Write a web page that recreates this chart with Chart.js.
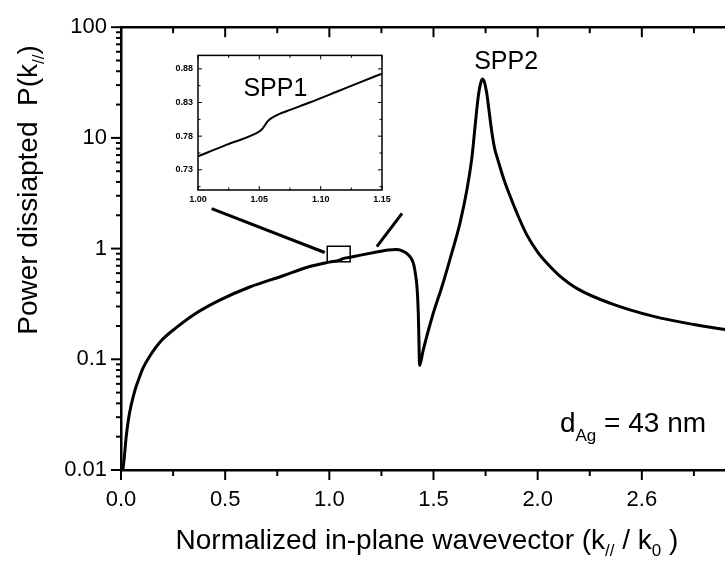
<!DOCTYPE html>
<html><head><meta charset="utf-8">
<script src="https://cdn.jsdelivr.net/npm/chart.js@4.4.1/dist/chart.umd.min.js"></script>
<style>
html,body{margin:0;padding:0;background:#fff;overflow:hidden;width:725px;height:566px;}
#wrap{position:relative;width:725px;height:566px;overflow:hidden;background:#fff;}
#main{position:absolute;left:0;top:0;}
#inset{position:absolute;left:150px;top:45px;}
</style></head><body>
<div id="wrap"><canvas id="main" width="746" height="566"></canvas><canvas id="inset" width="250" height="170"></canvas></div>
<script>
// ---- data ----
const kValues = [0.009,0.015,0.025,0.035,0.044,0.06,0.073,0.09,0.105,0.137,0.193,0.265,0.36,0.474,0.618,0.778,0.906,1.0,1.05,1.065,1.1,1.15,1.227,1.283,1.32,1.35,1.37,1.39,1.405,1.415,1.422,1.427,1.43,1.433,1.45,1.496,1.54,1.579,1.627,1.661,1.685,1.70,1.714,1.725,1.735,1.745,1.755,1.765,1.775,1.785,1.795,1.804,1.82,1.84,1.867,1.90,1.948,2.0,2.044,2.1,2.19,2.35,2.557,2.75,2.90,3.0];
const powerValues = [0.01,0.0125,0.020,0.028,0.035,0.047,0.057,0.07,0.083,0.106,0.147,0.193,0.261,0.343,0.45,0.569,0.689,0.755,0.787,0.812,0.836,0.873,0.93,0.97,0.98,0.955,0.91,0.83,0.72,0.56,0.42,0.26,0.15,0.088,0.12,0.25,0.45,0.80,1.70,3.46,6.8,13,23,30.5,34,31.6,25.7,18.6,13.2,9.8,7.8,6.8,5.4,4.1,3.0,2.1,1.33,0.93,0.74,0.58,0.435,0.32,0.244,0.206,0.186,0.178];
const xTickValues = [0,0.5,1,1.5,2,2.5];
const xTickLabels = ['0.0','0.5','1.0','1.5','2.0','2.6'];
const yTickValues = [0.01,0.1,1,10,100];
const yTickLabels = ['0.01','0.1','1','10','100'];

const insetK = [1.0,1.023,1.046,1.052,1.057,1.064,1.072,1.091,1.113,1.132,1.15];
const insetP = [0.750,0.767,0.783,0.790,0.8025,0.811,0.817,0.830,0.846,0.860,0.873];
const insetXTicks = [1.00,1.05,1.10,1.15];
const insetXLabels = ['1.00','1.05','1.10','1.15'];
const insetYTicks = [0.73,0.78,0.83,0.88];
const insetYLabels = ['0.73','0.78','0.83','0.88'];

// annotation anchors in data units
const zoomBoxK = [0.99,1.10];
const zoomBoxP = [0.76,1.05];
const leaderAK = [0.435,0.978], leaderAP = [2.30,0.922];
const leaderBK = [1.349,1.228], leaderBP = [2.08,1.04];
const spp2At = [1.695, 42];
const dagAt = [2.107, 0.0219];
const spp1At = [1.037, 0.839];

const FONT = '"Liberation Sans", Arial, Helvetica, sans-serif';

function drawRich(ctx, parts, x, y, align){
  let w = 0;
  parts.forEach(p => { ctx.font = p[1] + 'px ' + FONT; w += ctx.measureText(p[0]).width; });
  let cx = align === 'center' ? x - w/2 : x;
  parts.forEach(p => {
    ctx.font = p[1] + 'px ' + FONT;
    ctx.fillText(p[0], cx, y + (p[2]||0));
    cx += ctx.measureText(p[0]).width;
  });
}
function seg(ctx,x1,y1,x2,y2){ctx.beginPath();ctx.moveTo(x1,y1);ctx.lineTo(x2,y2);ctx.stroke();}

const mainDecor = {
  id:'mainDecor',
  afterDraw(chart){
    const {ctx, chartArea:a, scales:{x,y}} = chart;
    ctx.save();
    ctx.strokeStyle = '#000'; ctx.fillStyle = '#000';
    ctx.lineWidth = 2.5; ctx.lineCap = 'butt';
    seg(ctx, a.left-1, a.top, a.right, a.top);
    seg(ctx, a.right, a.top, a.right, a.bottom);
    ctx.lineWidth = 2;
    for (let i = 0; i <= 12; i++){
      const px = x.getPixelForValue(i*0.25);
      const L = i%2===0 ? 10 : 6;
      seg(ctx, px, a.bottom, px, a.bottom + L);
      seg(ctx, px, a.top, px, a.top + L);
    }
    for (let e = -2; e <= 2; e++){
      for (let m = 1; m <= 9; m++){
        const v = m*Math.pow(10,e);
        if (v > 100.0001) break;
        const py = y.getPixelForValue(v);
        const L = m===1 ? 10 : 5;
        seg(ctx, a.left - L, py, a.left, py);
        seg(ctx, a.right, py, a.right - L, py);
      }
    }
    // zoom box
    ctx.lineWidth = 1.5;
    const bx1 = x.getPixelForValue(zoomBoxK[0]), bx2 = x.getPixelForValue(zoomBoxK[1]);
    const by1 = y.getPixelForValue(zoomBoxP[1]), by2 = y.getPixelForValue(zoomBoxP[0]);
    ctx.strokeRect(bx1, by1, bx2-bx1, by2-by1);
    // leader lines
    ctx.lineWidth = 3;
    seg(ctx, x.getPixelForValue(leaderAK[0]), y.getPixelForValue(leaderAP[0]), x.getPixelForValue(leaderAK[1]), y.getPixelForValue(leaderAP[1]));
    seg(ctx, x.getPixelForValue(leaderBK[0]), y.getPixelForValue(leaderBP[0]), x.getPixelForValue(leaderBK[1]), y.getPixelForValue(leaderBP[1]));
    // labels
    ctx.textBaseline = 'alphabetic'; ctx.textAlign = 'left';
    drawRich(ctx, [['SPP2',25]], x.getPixelForValue(spp2At[0]), y.getPixelForValue(spp2At[1]), 'left');
    drawRich(ctx, [['d',28],['Ag',17,9],[' = 43 nm',28]], x.getPixelForValue(dagAt[0]), y.getPixelForValue(dagAt[1]), 'left');
    // axis titles
    drawRich(ctx, [['Normalized in-plane wavevector (k',28],['//',17,7],[' / k',28],['0',17,7],[' )',28]], 427, 549, 'center');
    ctx.save();
    ctx.translate(37, 190);
    ctx.rotate(-Math.PI/2);
    drawRich(ctx, [['Power dissiapted  P(k',28],['//',17,7],[')',28]], 0, 0, 'center');
    ctx.restore();
    ctx.restore();
  }
};

new Chart(document.getElementById('main'), {
  type:'line',
  data:{ datasets:[{
    data: kValues.map((k,i)=>({x:k, y:powerValues[i]})),
    borderColor:'#000', borderWidth:3, pointRadius:0, fill:false,
    cubicInterpolationMode:'monotone'
  }]},
  options:{
    responsive:false, animation:false, devicePixelRatio:1,
    layout:{padding:{top:17,right:0,left:0,bottom:0}},
    plugins:{legend:{display:false}, tooltip:{enabled:false}},
    scales:{
      x:{type:'linear', min:0, max:3,
        afterBuildTicks:s=>{s.ticks = xTickValues.map(v=>({value:v}));},
        afterFit:s=>{s.height = 96;},
        ticks:{autoSkip:false, maxRotation:0, padding:17, color:'#000',
          font:{family:FONT,size:22},
          callback:(v)=>{const i = xTickValues.findIndex(t=>Math.abs(t-v)<1e-9); return i>=0?xTickLabels[i]:'';}},
        grid:{display:false, drawTicks:false},
        border:{display:true, color:'#000', width:2.5}
      },
      y:{type:'logarithmic', min:0.01, max:100,
        afterBuildTicks:s=>{s.ticks = yTickValues.map(v=>({value:v}));},
        afterFit:s=>{s.width = 121;},
        ticks:{autoSkip:false, padding:14, color:'#000',
          font:{family:FONT,size:22},
          callback:(v)=>{const i = yTickValues.findIndex(t=>Math.abs(t-v)/t<1e-6); return i>=0?yTickLabels[i]:'';}},
        grid:{display:false, drawTicks:false},
        border:{display:true, color:'#000', width:2.5}
      }
    }
  },
  plugins:[mainDecor]
});

const insetDecor = {
  id:'insetDecor',
  beforeDraw(chart){
    const {ctx, chartArea:a} = chart;
    ctx.save(); ctx.fillStyle='#fff'; ctx.fillRect(a.left, a.top, a.right-a.left, a.bottom-a.top); ctx.restore();
  },
  afterDraw(chart){
    const {ctx, chartArea:a, scales:{x,y}} = chart;
    ctx.save();
    ctx.strokeStyle='#000'; ctx.fillStyle='#000';
    ctx.lineWidth = 1.5;
    ctx.strokeRect(a.left, a.top, a.right-a.left, a.bottom-a.top);
    ctx.lineWidth = 1;
    for (let i = 0; i <= 6; i++){
      const px = x.getPixelForValue(1.0 + i*0.025);
      const L = i%2===0 ? 4 : 2.5;
      seg(ctx, px, a.bottom, px, a.bottom - L);
      seg(ctx, px, a.top, px, a.top + L);
    }
    for (let i = -1; i <= 7; i++){
      const v = 0.73 + i*0.025;
      if (v < 0.70 || v > 0.90) continue;
      const py = y.getPixelForValue(v);
      const L = i%2===0 ? 4 : 2.5;
      seg(ctx, a.left, py, a.left + L, py);
      seg(ctx, a.right, py, a.right - L, py);
    }
    ctx.textBaseline='alphabetic';
    drawRich(ctx, [['SPP1',25]], x.getPixelForValue(spp1At[0]), y.getPixelForValue(spp1At[1]), 'left');
    ctx.restore();
  }
};

new Chart(document.getElementById('inset'), {
  type:'line',
  data:{ datasets:[{
    data: insetK.map((k,i)=>({x:k, y:insetP[i]})),
    borderColor:'#000', borderWidth:2, pointRadius:0, fill:false,
    cubicInterpolationMode:'monotone'
  }]},
  options:{
    responsive:false, animation:false, devicePixelRatio:1,
    layout:{padding:{top:10,right:18,left:0,bottom:0}},
    plugins:{legend:{display:false}, tooltip:{enabled:false}},
    scales:{
      x:{type:'linear', min:1.0, max:1.15,
        afterBuildTicks:s=>{s.ticks = insetXTicks.map(v=>({value:v}));},
        afterFit:s=>{s.height = 25;},
        ticks:{autoSkip:false, maxRotation:0, padding:4, color:'#000',
          font:{family:FONT,size:9,weight:'bold'},
          callback:(v)=>{const i = insetXTicks.findIndex(t=>Math.abs(t-v)<1e-9); return i>=0?insetXLabels[i]:'';}},
        grid:{display:false, drawTicks:false},
        border:{display:false}
      },
      y:{type:'linear', min:0.70, max:0.90,
        afterBuildTicks:s=>{s.ticks = insetYTicks.map(v=>({value:v}));},
        afterFit:s=>{s.width = 48;},
        ticks:{autoSkip:false, padding:5, color:'#000',
          font:{family:FONT,size:9,weight:'bold'},
          callback:(v)=>{const i = insetYTicks.findIndex(t=>Math.abs(t-v)<1e-9); return i>=0?insetYLabels[i]:'';}},
        grid:{display:false, drawTicks:false},
        border:{display:false}
      }
    }
  },
  plugins:[insetDecor]
});
</script>
</body></html>
